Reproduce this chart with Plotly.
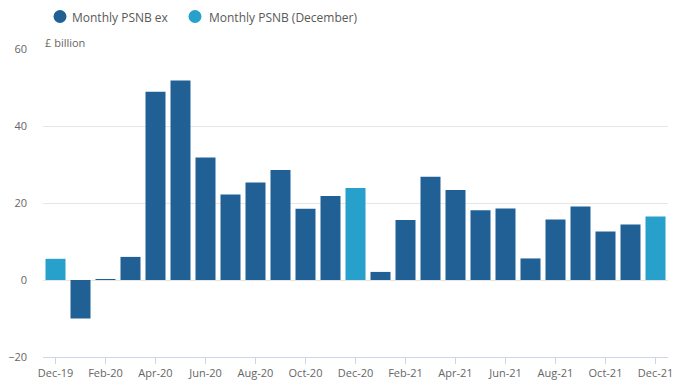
import plotly.graph_objects as go

months = ["Dec-19", "Jan-20", "Feb-20", "Mar-20", "Apr-20", "May-20", "Jun-20", "Jul-20",
          "Aug-20", "Sep-20", "Oct-20", "Nov-20", "Dec-20", "Jan-21", "Feb-21", "Mar-21",
          "Apr-21", "May-21", "Jun-21", "Jul-21", "Aug-21", "Sep-21", "Oct-21", "Nov-21", "Dec-21"]
psnb = [5.5, -10.0, 0.2, 6.0, 48.9, 51.8, 31.8, 22.2, 25.3, 28.6, 18.5, 21.8, 23.9,
        2.1, 15.6, 26.8, 23.4, 18.1, 18.6, 5.6, 15.7, 19.1, 12.6, 14.4, 16.5]
tick_labels = months[::2]
series_names = ["Monthly PSNB ex", "Monthly PSNB (December)"]

dark = "#206095"
light = "#27a0cc"
colors = [dark, light]

ex_vals = [None if m.startswith("Dec") else v for m, v in zip(months, psnb)]
dec_vals = [v if m.startswith("Dec") else None for m, v in zip(months, psnb)]

W, H = 674, 388
ML, MR, MT, MB = 43, 6, 49, 31
PW = W - ML - MR

fig = go.Figure()
fig.add_trace(go.Bar(x=months, y=ex_vals, marker_color=dark, name=series_names[0],
                     showlegend=False, marker_line_width=0))
fig.add_trace(go.Bar(x=months, y=dec_vals, marker_color=light, name=series_names[1],
                     showlegend=False, marker_line_width=0))

# manual legend (circle markers + text)
legend_marker_px = [60, 195]
legend_text_px = [70, 207]
shapes = []
annotations = []
for name, col, mx, tx in zip(series_names, colors, legend_marker_px, legend_text_px):
    shapes.append(dict(type="circle", xref="paper", yref="paper",
                       xsizemode="pixel", ysizemode="pixel",
                       xanchor=(mx - ML) / PW, yanchor=1,
                       x0=-6.5, x1=6.5, y0=26, y1=39,
                       fillcolor=col, line=dict(width=0)))
    annotations.append(dict(text=name, xref="paper", yref="paper", x=(tx - ML) / PW, y=1,
                            xanchor="left", yanchor="middle", yshift=32, showarrow=False,
                            font=dict(size=12, color="#595959")))
annotations.append(dict(text="£ billion", xref="paper", yref="paper", x=0, y=1,
                        xanchor="left", yanchor="middle", yshift=7, showarrow=False,
                        font=dict(size=11, color="#666666")))

fig.update_layout(
    width=W, height=H,
    margin=dict(l=ML, r=MR, t=MT, b=MB, autoexpand=False),
    paper_bgcolor="white", plot_bgcolor="white",
    barmode="overlay", bargap=0.2, showlegend=False,
    font=dict(family="Open Sans, sans-serif", size=11, color="#666666"),
    xaxis=dict(type="category", categoryorder="array", categoryarray=months,
               tickmode="array", tickvals=tick_labels, ticktext=tick_labels,
               ticks="outside", ticklen=6, tickcolor="#ccd6eb", showline=True,
               linecolor="#ccd6eb", linewidth=1, showgrid=False, tickangle=0,
               range=[-0.5, len(months) - 0.5], fixedrange=True, automargin=False),
    yaxis=dict(range=[-20, 60], tickvals=[-20, 0, 20, 40, 60], showgrid=True,
               gridcolor="#e6e6e6", gridwidth=1, zeroline=True, zerolinecolor="#e6e6e6",
               zerolinewidth=1, ticks="", ticklabelstandoff=15, fixedrange=True,
               automargin=False),
    shapes=shapes,
    annotations=annotations,
)

fig.write_html("out.html", config={"displayModeBar": False},
               post_script="document.body.style.margin='0';document.body.style.padding='0';")
